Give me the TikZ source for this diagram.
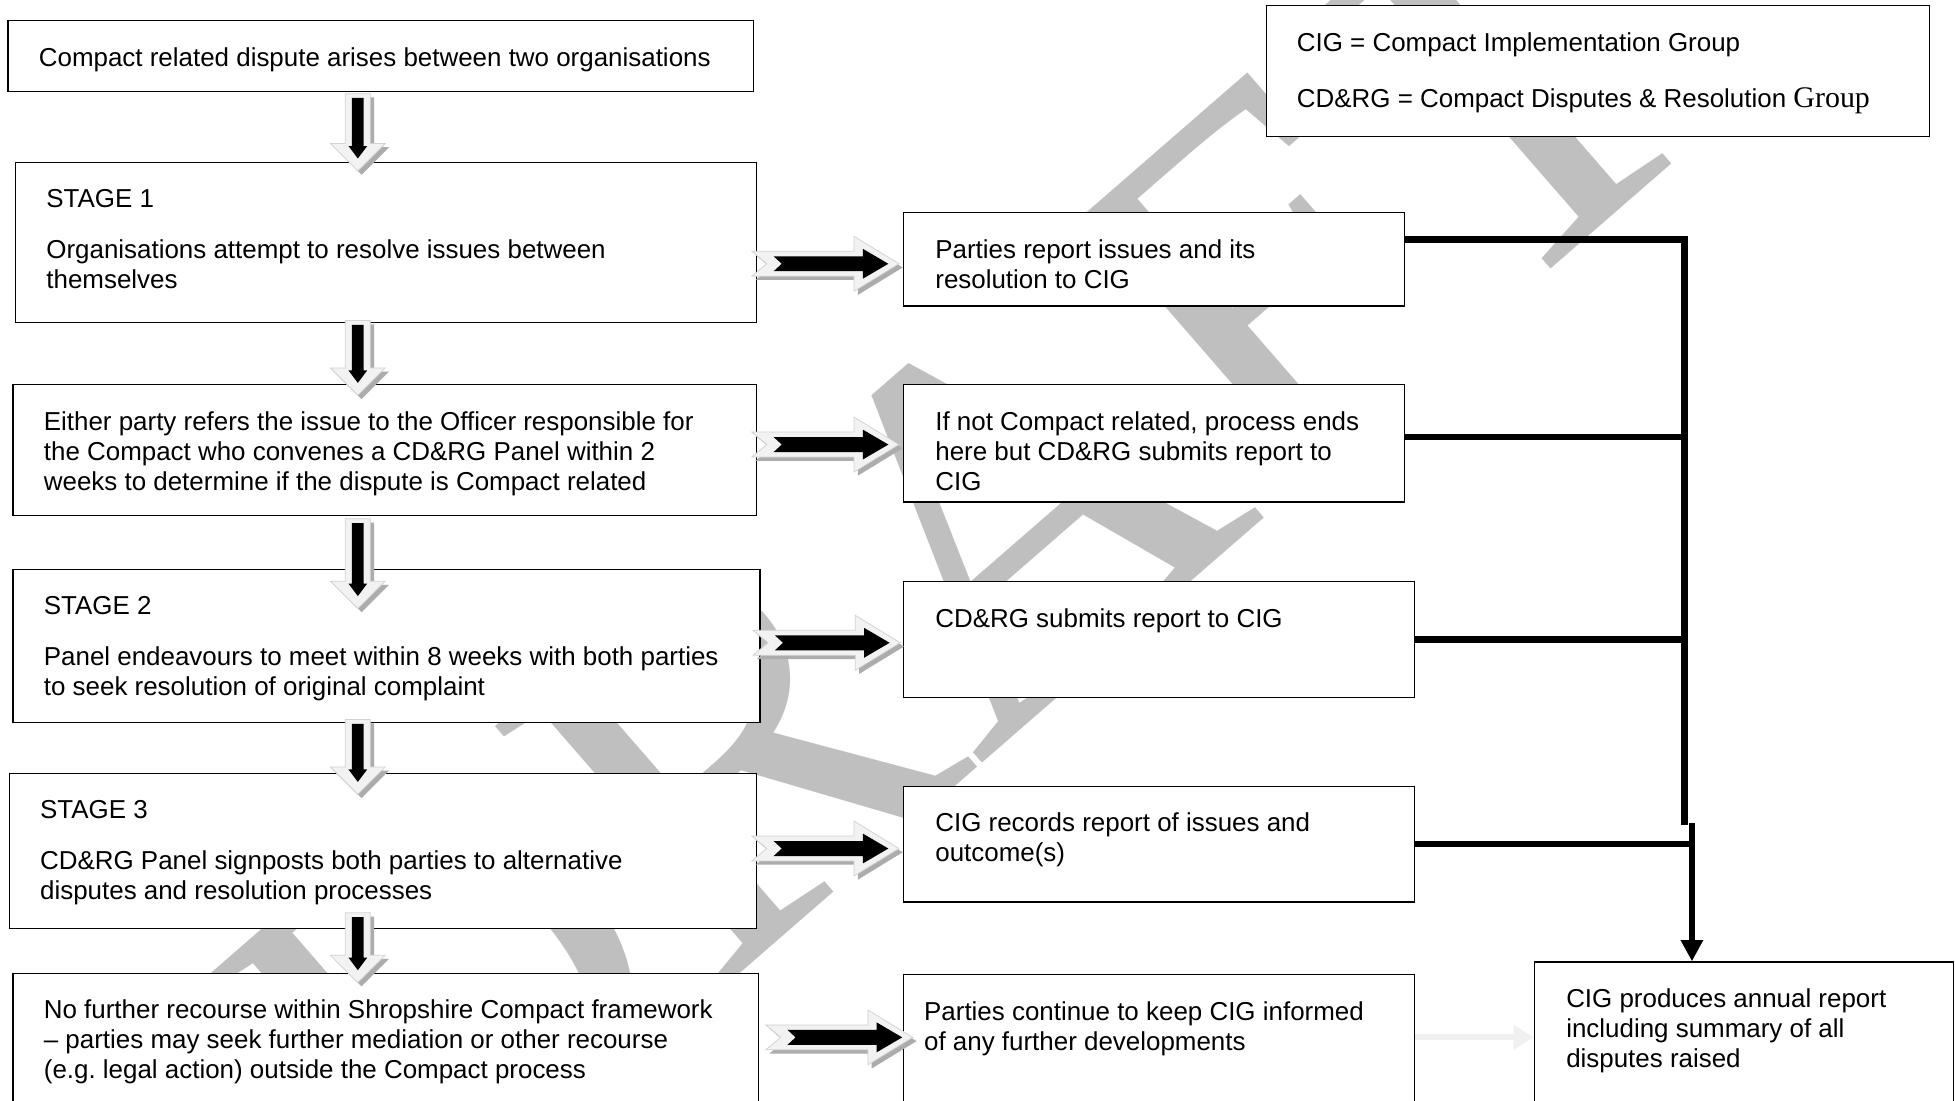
\documentclass[tikz,border=0pt]{standalone}
\usepackage{fontspec}
\setmainfont{Liberation Sans}
\newfontfamily\timesfont{Liberation Serif}
\usetikzlibrary{positioning,calc,arrows.meta}

\tikzset{
    box/.style={draw=black, fill=white, line width=1.1pt, anchor=north west, inner sep=0pt},
    txt/.style={align=left, inner sep=0pt, font=\fontsize{20.8}{24}\selectfont},
    link/.style={line width=5.2pt},
    pics/downarrow/.style={code={
        \fill[gray!65, shift={(3,3)}] (-10,0) -- (10,0) -- (10,#1-22) -- (22,#1-22) -- (0,#1) -- (-22,#1-22) -- (-10,#1-22) -- cycle;
        \filldraw[fill=gray!10, draw=gray!35, line width=0.6pt] (-10,0) -- (10,0) -- (10,#1-22) -- (22,#1-22) -- (0,#1) -- (-22,#1-22) -- (-10,#1-22) -- cycle;
        \fill[black] (-4.7,3.5) -- (4.7,3.5) -- (4.7,#1-20) -- (7.5,#1-20) -- (0,#1-10) -- (-7.5,#1-20) -- (-4.7,#1-20) -- cycle;
    }},
    pics/rightarrow/.style={code={
        \fill[gray!65, shift={(3,3)}] (0,-10) -- (82,-10) -- (82,-22) -- (118,0) -- (82,22) -- (82,10) -- (0,10) -- (12,0) -- cycle;
        \filldraw[fill=gray!10, draw=gray!35, line width=0.6pt] (0,-10) -- (82,-10) -- (82,-22) -- (118,0) -- (82,22) -- (82,10) -- (0,10) -- (12,0) -- cycle;
        \fill[black] (17.5,-6) -- (89,-6) -- (89,-12) -- (109.5,0) -- (89,12) -- (89,6) -- (17.5,6) -- (24,0) -- cycle;
    }},
}

\begin{document}
\begin{tikzpicture}[x=1pt, y=-1pt]
    \clip (0,0) rectangle (1568,883);
    \fill[white] (0,0) rectangle (1568,883);

    % Watermark
    \node[text=black!25, rotate=41, anchor=base, inner sep=0pt, font=\timesfont\fontsize{425}{425}\selectfont] (draft) at (865,545) {DRAFT};

    % Main column
    \node[box, minimum width=598pt, minimum height=57pt] (start) at (6,16) {};
    \node[txt, below right=22pt and 25pt of start.north west] (starttxt) {Compact related dispute arises between two organisations};

    \node[box, minimum width=594pt, minimum height=128pt] (s1) at (12,130) {};
    \node[txt, below right=22pt and 25pt of s1.north west] (s1txt) {STAGE 1\\[17pt]Organisations attempt to resolve issues between\\themselves};

    \node[box, minimum width=596pt, minimum height=105pt] (refer) at (10,308) {};
    \node[txt, below right=22pt and 25pt of refer.north west] (refertxt) {Either party refers the issue to the Officer responsible for\\the Compact who convenes a CD\&RG Panel within 2\\weeks to determine if the dispute is Compact related};

    \node[box, minimum width=599pt, minimum height=123pt] (s2) at (10,456) {};
    \node[txt, below right=22pt and 25pt of s2.north west] (s2txt) {STAGE 2\\[17pt]Panel endeavours to meet within 8 weeks with both parties\\to seek resolution of original complaint};

    \node[box, minimum width=599pt, minimum height=124pt] (s3) at (7,620) {};
    \node[txt, below right=22pt and 25pt of s3.north west] (s3txt) {STAGE 3\\[17pt]CD\&RG Panel signposts both parties to alternative\\disputes and resolution processes};

    \node[box, minimum width=598pt, minimum height=150pt] (nofurther) at (10,780) {};
    \node[txt, below right=22pt and 25pt of nofurther.north west] (nofurthertxt) {No further recourse within Shropshire Compact framework\\– parties may seek further mediation or other recourse\\(e.g.\ legal action) outside the Compact process};

    % Report column
    \node[box, minimum width=402pt, minimum height=75pt] (r1) at (724,170) {};
    \node[txt, below right=22pt and 26pt of r1.north west] (r1txt) {Parties report issues and its\\resolution to CIG};

    \node[box, minimum width=402pt, minimum height=94pt] (r2) at (724,308) {};
    \node[txt, below right=22pt and 26pt of r2.north west] (r2txt) {If not Compact related, process ends\\here but CD\&RG submits report to\\CIG};

    \node[box, minimum width=410pt, minimum height=93pt] (r3) at (724,466) {};
    \node[txt, below right=22pt and 26pt of r3.north west] (r3txt) {CD\&RG submits report to CIG};

    \node[box, minimum width=410pt, minimum height=93pt] (r4) at (724,630) {};
    \node[txt, below right=22pt and 26pt of r4.north west] (r4txt) {CIG records report of issues and\\outcome(s)};

    \node[box, minimum width=410pt, minimum height=150pt] (r5) at (724,781) {};
    \node[txt, below right=22pt and 17pt of r5.north west] (r5txt) {Parties continue to keep CIG informed\\of any further developments};

    % Legend and annual report
    \node[box, minimum width=532pt, minimum height=105pt] (legend) at (1015,4) {};
    \node[txt, below right=22pt and 25pt of legend.north west] (legendtxt) {CIG = Compact Implementation Group\\[21pt]CD\&RG = Compact Disputes \& Resolution {\timesfont\fontsize{24}{24}\selectfont Group}};

    \node[box, minimum width=336pt, minimum height=150pt] (annual) at (1230,771) {};
    \node[txt, below right=22pt and 26pt of annual.north west] (annualtxt) {CIG produces annual report\\including summary of all\\disputes raised};

    % Block arrows
    \coordinate (spine) at (287,0);
    \coordinate (rail) at (603,0);
    \pic at ($(spine |- start.south)+(0,1)$) {downarrow=62};
    \pic at ($(spine |- s1.south)+(0,-2)$) {downarrow=60};
    \pic at ($(spine |- refer.south)+(0,2)$) {downarrow=72};
    \pic at ($(spine |- s2.south)+(0,-3)$) {downarrow=60};
    \pic at ($(spine |- s3.south)+(0,-13)$) {downarrow=56};

    \pic at ($(rail |- r1.west)+(0,3.5)$) {rightarrow};
    \pic at ($(rail |- r2.west)+(0,1)$) {rightarrow};
    \pic at ($(rail |- r3.west)+(1,2.5)$) {rightarrow};
    \pic at ($(rail |- r4.west)+(0,3.5)$) {rightarrow};
    \pic at ($(nofurther.north east)+(5,52)$) {rightarrow};

    % Links to annual report
    \coordinate (jtop) at (1351,192);
    \coordinate (jmid) at (1357,662);
    \draw[link] ($(r1.north east)+(0,22)$) -- (jtop) -- (jtop |- jmid);
    \draw[link] ($(r2.east)+(0,-5)$) -- ($(r2.east -| jtop)+(0,-5)$);
    \draw[link] (r3.east) -- (r3.east -| jtop);
    \draw[link] (r4.east) -- (r4.east -| jmid);
    \draw[link, -{Triangle[length=17pt, width=17pt]}] ($(jmid)+(0,-2)$) -- (jmid |- annual.north);

    \coordinate (keep) at ($(r5.north east)+(0,51)$);
    \draw[gray!12, line width=5pt, -{Triangle[length=16pt, width=19pt]}] (keep) -- (keep -| annual.west);
\end{tikzpicture}
\end{document}
